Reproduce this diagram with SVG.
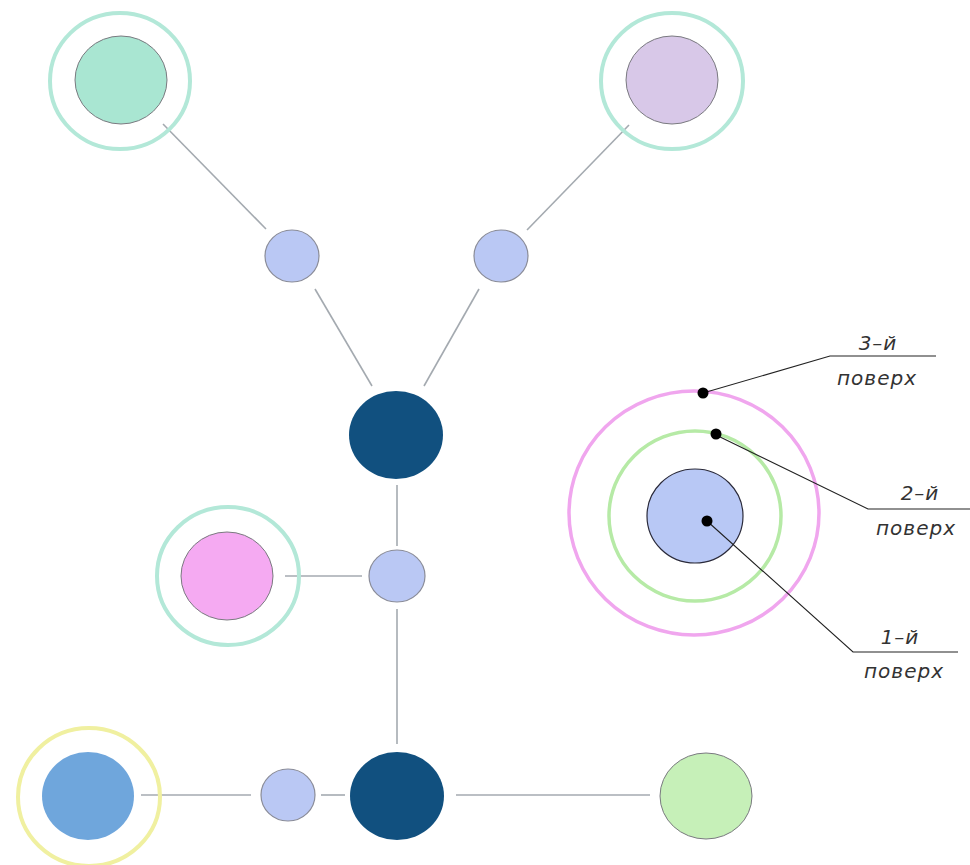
<svg xmlns="http://www.w3.org/2000/svg" width="970" height="865" viewBox="0 0 970 865">
<style>
.ring{fill:none;stroke-width:4}
.mint{stroke:#b3e8d8}
.yel{stroke:#f0f0a0}
.node{stroke:#7a7a80;stroke-width:1}
.small{fill:#bac8f4;stroke:#8a8c98;stroke-width:1.2}
.dark{fill:#11507f}
.conn line{stroke:#a4aab0;stroke-width:1.6}
.lead line,.lead polyline{stroke:#222;stroke-width:1.1;fill:none}
.lbl{font-family:"DejaVu Sans","Liberation Sans",sans-serif;font-style:italic;font-size:20px;letter-spacing:1px;fill:#333;text-anchor:middle}
</style>
<rect width="970" height="865" fill="#fff"/>
<g id="connectors" class="conn">
<line x1="163" y1="124" x2="266" y2="229"/>
<line x1="315" y1="289" x2="372" y2="386"/>
<line x1="629" y1="125" x2="527" y2="230"/>
<line x1="479" y1="289" x2="424" y2="386"/>
<line x1="397" y1="485" x2="397" y2="546"/>
<line x1="285" y1="576" x2="362" y2="576"/>
<line x1="397" y1="609" x2="397" y2="744"/>
<line x1="141" y1="795" x2="251" y2="795"/>
<line x1="321" y1="795" x2="345" y2="795"/>
<line x1="456" y1="795" x2="650" y2="795"/>
</g>
<g id="node-topleft">
<ellipse class="ring mint" cx="120" cy="81" rx="70" ry="68"/>
<ellipse class="node" cx="121" cy="80" rx="46" ry="44" fill="#a9e6d2"/>
</g>
<g id="node-topright">
<ellipse class="ring mint" cx="672" cy="81" rx="71" ry="68"/>
<ellipse class="node" cx="672" cy="80" rx="46" ry="44" fill="#d8c8e8"/>
</g>
<g id="node-small-left"><ellipse class="small" cx="292" cy="256" rx="27" ry="26"/></g>
<g id="node-small-right"><ellipse class="small" cx="501" cy="256" rx="27" ry="26"/></g>
<g id="node-dark-top"><ellipse class="dark" cx="396" cy="435" rx="47" ry="44"/></g>
<g id="node-pink">
<ellipse class="ring mint" cx="228" cy="576" rx="71" ry="69"/>
<ellipse class="node" cx="227" cy="576" rx="46" ry="44" fill="#f5aaf2"/>
</g>
<g id="node-small-mid"><ellipse class="small" cx="397" cy="576" rx="28" ry="26"/></g>
<g id="node-blue">
<ellipse class="ring yel" cx="89" cy="797" rx="71" ry="69"/>
<ellipse cx="88" cy="796" rx="46" ry="44" fill="#6fa6dc"/>
</g>
<g id="node-small-bottom"><ellipse class="small" cx="288" cy="795" rx="27" ry="26"/></g>
<g id="node-dark-bottom"><ellipse class="dark" cx="397" cy="796" rx="47" ry="44"/></g>
<g id="node-green"><ellipse class="node" cx="706" cy="796" rx="46" ry="43" fill="#c6f0b8"/></g>
<g id="legend">
<ellipse cx="694" cy="513" rx="125" ry="122" fill="none" stroke="#f0a6ee" stroke-width="3.5"/>
<ellipse cx="695" cy="516" rx="86" ry="85" fill="none" stroke="#b6eaa6" stroke-width="3.5"/>
<ellipse cx="695" cy="516" rx="48" ry="47" fill="#b8c8f5" stroke="#2a2a3a" stroke-width="1.2"/>
<g class="lead">
<polyline points="703,393 830,356 936,356"/>
<polyline points="716,435 868,509 970,509"/>
<polyline points="707,521 853,652 958,652"/>
</g>
<circle cx="703" cy="393" r="5.5" fill="#000"/>
<circle cx="716" cy="434" r="5.5" fill="#000"/>
<circle cx="707" cy="521" r="5.5" fill="#000"/>
<text class="lbl" x="878" y="350">3–й</text>
<text class="lbl" x="877" y="385">поверх</text>
<text class="lbl" x="920" y="500">2–й</text>
<text class="lbl" x="916" y="535">поверх</text>
<text class="lbl" x="900" y="644">1–й</text>
<text class="lbl" x="904" y="678">поверх</text>
</g>
</svg>
